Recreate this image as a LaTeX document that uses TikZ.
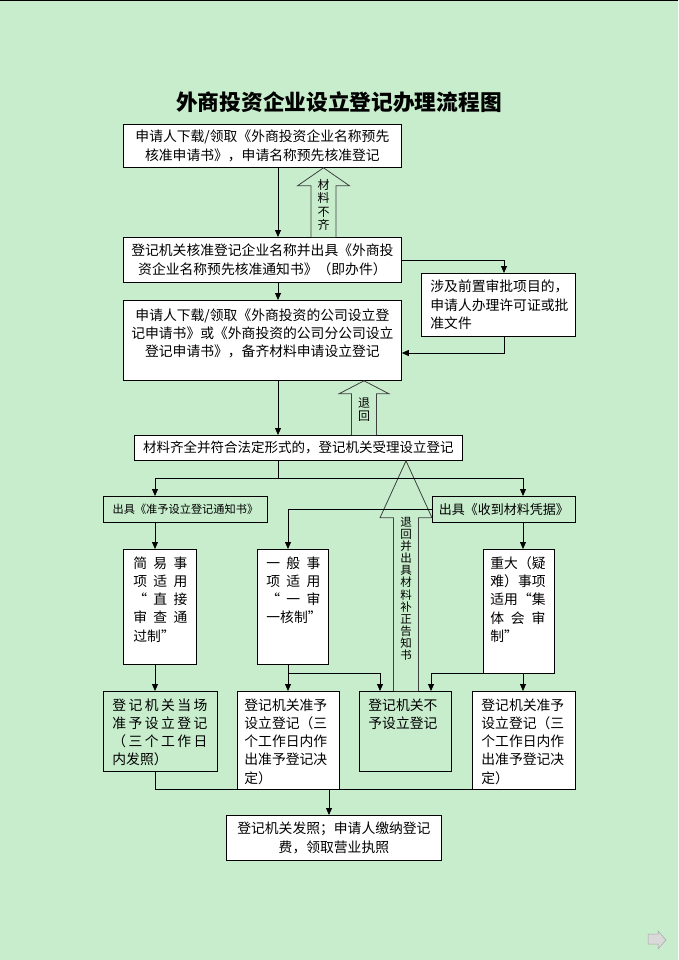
\documentclass[tikz,border=0pt]{standalone}
\usepackage{fontspec}
\setmainfont{Noto Sans CJK SC}
\usetikzlibrary{arrows.meta,calc}
\definecolor{bg}{RGB}{200,237,205}
\setlength\parindent{0pt}
\newcommand\fs{\fontsize{13.8}{18.3}\selectfont}
\newcommand\cb[4]{\parbox[c][#2pt][c]{#1pt}{\fontsize{#3}{18.3}\selectfont\centering #4\par}}
\newcommand\tb[4]{\parbox[c][#2pt][t]{#1pt}{\fs\vspace*{7pt}\hspace*{#3pt}\vtop{#4}}}
\newcommand\hollowarrow[5]{%
  \draw[hol] ($(#2)+(-#5,0)$) -- ($(#1)+(-#5,#3)$) -- ($(#1)+(-#4,#3)$) -- (#1)
     -- ($(#1)+(#4,#3)$) -- ($(#1)+(#5,#3)$) -- ($(#2)+(#5,0)$);}
\tikzset{
  box/.style={draw=black, line width=0.8pt, fill=white, inner sep=0pt, anchor=north west},
  gbox/.style={box, fill=none},
  arr/.style={line width=0.8pt, -{Triangle[length=7pt,width=6pt]}},
  ln/.style={line width=0.8pt},
  hol/.style={draw=black!75, line width=0.8pt, fill=bg},
  lbl/.style={align=center, inner sep=0pt, font=\fontsize{12}{13.3}\selectfont},
  lblb/.style={align=center, inner sep=0pt, font=\fontsize{11.5}{12.1}\selectfont},
}
\begin{document}
\begin{tikzpicture}[x=1pt,y=-1pt]
\fill[bg] (0,0) rectangle (678,960);
\useasboundingbox (0,0) rectangle (678,960);
\draw[line width=1.2pt] (0,0.6) -- (678,0.6);

% title
\node[inner sep=0pt] (title) at (339,102) {\fontsize{21.7}{26}\selectfont\bfseries 外商投资企业设立登记办理流程图};

% x / y guide coordinates
\coordinate (xa) at (278,0);
\coordinate (xb) at (504,0);
\coordinate (xc) at (155,0);
\coordinate (xd) at (523,0);
\coordinate (xe) at (288,0);
\coordinate (xf) at (380,0);
\coordinate (xg) at (431,0);
\coordinate (xh) at (329,0);
\coordinate (a1) at (323.5,0);
\coordinate (a2) at (364,0);
\coordinate (a3) at (406,0);
\coordinate (yb) at (0,353);
\coordinate (yc) at (0,478);
\coordinate (ye) at (0,673);
\coordinate (yf) at (0,789);

% boxes
\node[box] (b1) at (123,124) {\cb{278}{43}{13.8}{申请人下载/领取《外商投资企业名称预先\\核准申请书》，申请名称预先核准登记}};
\node[box] (b2) at (123,237) {\cb{278}{45}{13.8}{登记机关核准登记企业名称并出具《外商投\\资企业名称预先核准通知书》（即办件）}};
\node[box] (r1) at (421,273) {\parbox[c][63pt][c]{154pt}{\fs\hspace*{9pt}\vtop{\hbox{涉及前置审批项目的，}\hbox{申请人办理许可证或批}\hbox{准文件}}}};
\node[box] (b3) at (123,300) {\parbox[c][80pt][t]{278pt}{\fs\vspace*{8pt}\centering 申请人下载/领取《外商投资的公司设立登\\记申请书》或《外商投资的公司分公司设立\\登记申请书》，备齐材料申请设立登记\par}};
\node[box] (b4) at (134,435) {\cb{328}{25}{13.5}{材料齐全并符合法定形式的，登记机关受理设立登记}};
\node[gbox] (c1) at (103,496) {\cb{164}{26}{11.2}{出具《准予设立登记通知书》}};
\node[gbox] (c2) at (432,496) {\cb{143}{26}{13}{出具《收到材料凭据》}};

\node[box] (d1) at (123,549) {\tb{73}{115}{10}{%
  \hbox to54pt{简\hfill 易\hfill 事}\hbox to54pt{项\hfill 适\hfill 用}%
  \hbox to54pt{“\hfill 直\hfill 接}\hbox to54pt{审\hfill 查\hfill 通}\hbox{过制”}}};
\node[box] (d2) at (257,549) {\tb{71}{115}{9}{%
  \hbox to54pt{一\hfill 般\hfill 事}\hbox to54pt{项\hfill 适\hfill 用}%
  \hbox to54pt{“\hfill 一\hfill 审}\hbox{一核制”}}};
\node[box] (d3) at (483,549) {\tb{71}{124}{7}{%
  \hbox{重大（疑}\hbox{难）事项}\hbox{适用“集}%
  \hbox to55pt{体\hfill 会\hfill 审}\hbox{制”}}};

\node[gbox] (e1) at (103,691) {\tb{114}{80}{9}{%
  \hbox to95pt{登\hfill 记\hfill 机\hfill 关\hfill 当\hfill 场}%
  \hbox to95pt{准\hfill 予\hfill 设\hfill 立\hfill 登\hfill 记}%
  \hbox to95pt{（\hfill 三\hfill 个\hfill 工\hfill 作\hfill 日}\hbox{内发照）}}};
\node[box] (e2) at (237,691) {\tb{102}{98}{7}{%
  \hbox{登记机关准予}\hbox{设立登记（三}\hbox{个工作日内作}\hbox{出准予登记决}\hbox{定）}}};
\node[gbox] (e3) at (359,691) {\tb{92}{80}{9}{%
  \hbox{登记机关不}\hbox{予设立登记}}};
\node[box] (e4) at (472,691) {\tb{103}{98}{9}{%
  \hbox{登记机关准予}\hbox{设立登记（三}\hbox{个工作日内作}\hbox{出准予登记决}\hbox{定）}}};

\node[box] (f) at (226,815) {\cb{215}{45}{13.8}{登记机关发照；申请人缴纳登记\\费，领取营业执照}};

% hollow return arrows
\coordinate (t1) at (b1.south -| a1);
\coordinate (s1) at (b2.north -| a1);
\coordinate (t2) at (b3.south -| a2);
\coordinate (s2) at (b4.north -| a2);
\coordinate (t3) at (b4.south -| a3);
\coordinate (s3) at (e3.north -| a3);
\hollowarrow{t1}{s1}{18}{26}{12.5}
\hollowarrow{t2}{s2}{13}{25}{12.5}
\hollowarrow{t3}{s3}{57}{26}{12.5}
\node[lbl] (l1) at ($(t1)+(0,37)$) {材\\料\\不\\齐};
\node[lbl] (l2) at ($(t2)+(0,29)$) {退\\回};
\node[lblb] (l3) at ($(t3)+(0,128)$) {退\\回\\并\\出\\具\\材\\料\\补\\正\\告\\知\\书};

% connectors
\draw[arr] (b1.south -| xa) -- (b2.north -| xa);
\draw[arr] (b2.south -| xa) -- (b3.north -| xa);
\draw[arr] (b2.east) -| (r1.north -| xb);
\draw[arr] (r1.south -| xb) |- (b3.east |- yb);
\draw[arr] (b3.south -| xa) -- (b4.north -| xa);
\draw[ln] (b4.south -| xa) -- (xa |- yc);
\draw[arr] (xa |- yc) -| (c1.north -| xc);
\draw[arr] (xa |- yc) -| (c2.north -| xd);
\draw[arr] (c1.south -| xc) -- (d1.north -| xc);
\draw[arr] (c2.west) -| (d2.north -| xe);
\draw[arr] (c2.south -| xd) -- (d3.north -| xd);
\draw[arr] (d1.south -| xc) -- (e1.north -| xc);
\draw[arr] (d2.south -| xe) -- (e2.north -| xe);
\draw[arr] (xe |- ye) -| (e3.north -| xf);
\draw[arr] (d3.south west) -| (e3.north -| xg);
\draw[arr] (d3.south -| xd) -- (e4.north -| xd);
\draw[ln] (e1.south -| xc) |- (e4.south west);
\draw[arr] (xh |- yf) -- (f.north -| xh);

% next-slide icon
\draw[gray!70, fill=gray!30, line width=0.5pt] (648,934) -- (658,934) -- (658,931) -- (666,940) -- (658,949) -- (658,944) -- (648,944) -- cycle;
\end{tikzpicture}
\end{document}
